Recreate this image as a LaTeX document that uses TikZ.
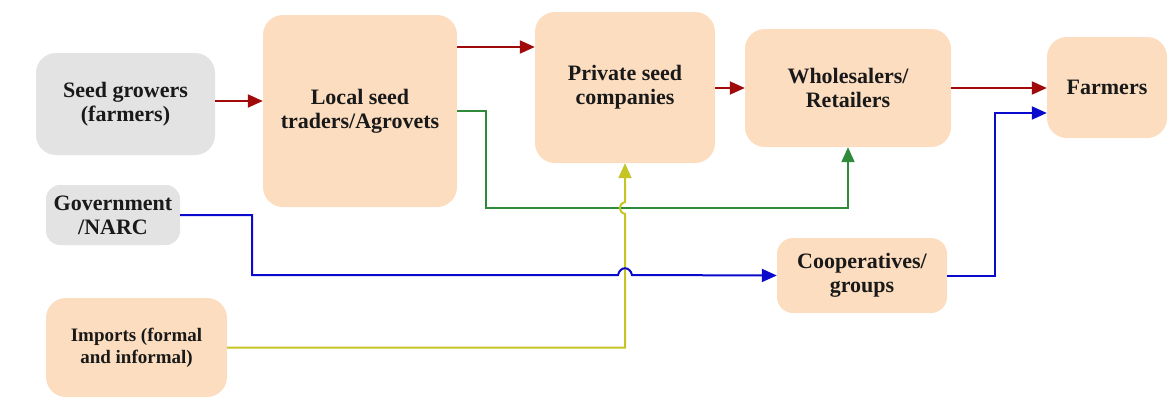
\documentclass[tikz,border=0pt]{standalone}
\usepackage{fontspec}
\setmainfont{Liberation Serif}[BoldFont={Liberation Serif Bold}]
\usetikzlibrary{arrows.meta,calc}
\definecolor{peach}{HTML}{FCDDC0}
\definecolor{greybox}{HTML}{E3E3E3}
\definecolor{darkred}{HTML}{A00A0A}
\definecolor{flowgreen}{HTML}{2F8A3A}
\definecolor{flowyellow}{HTML}{C4C424}
\definecolor{flowblue}{HTML}{0A0ACC}
\tikzset{
  box/.style={rounded corners=20pt, align=center, font=\rmfamily\bfseries\fontsize{22}{24}\selectfont, inner sep=0pt, text=black!90},
  pbox/.style={box, fill=peach},
  gbox/.style={box, fill=greybox},
  flow/.style={line width=2pt, -{Triangle[length=15pt,width=13pt]}},
}
\begin{document}
\begin{tikzpicture}[x=1pt,y=-1pt]
\useasboundingbox (0,0) rectangle (1170,405);
\node[gbox, minimum width=179pt, minimum height=102pt] (sg) at (125.5,104) {Seed growers\\(farmers)};
\node[pbox, minimum width=194pt, minimum height=192pt] (lt) at (360,111) {Local seed\\traders/Agrovets};
\node[pbox, minimum width=180pt, minimum height=151pt] (ps) at (625,87.5) {Private seed\\companies};
\node[pbox, minimum width=206pt, minimum height=118pt] (wr) at (848,88) {Wholesalers/\\Retailers};
\node[pbox, minimum width=120pt, minimum height=101pt] (fa) at (1107,87.5) {Farmers};
\node[gbox, minimum width=134pt, minimum height=60pt, rounded corners=14pt] (gov) at (113,215) {Government\\/NARC};
\node[pbox, minimum width=170pt, minimum height=75pt, rounded corners=16pt] (co) at (862,275.5) {Cooperatives/\\groups};
\node[pbox, minimum width=181pt, minimum height=99pt, font=\rmfamily\bfseries\fontsize{19}{22}\selectfont] (im) at (136.5,347.5) {Imports (formal\\and informal)};
\coordinate (r1) at (0,101);
\coordinate (r2) at (0,47);
\coordinate (r3) at (0,88);
\coordinate (g1) at (0,111);
\coordinate (gx) at (486,208);
\coordinate (yb1) at (625,214);
\coordinate (yb2) at (625,202);
\coordinate (bc) at (252,275);
\coordinate (bj1) at (618,275);
\coordinate (bj2) at (632,275);
\coordinate (bb) at (995,113);
% red flows
\draw[flow, darkred] (sg.east |- r1) -- (lt.west |- r1);
\draw[flow, darkred] (lt.east |- r2) -- (ps.west |- r2);
\draw[flow, darkred] (ps.east |- r3) -- (wr.west |- r3);
\draw[flow, darkred] (wr.east |- r3) -- (fa.west |- r3);
% green flow
\draw[flow, flowgreen] (lt.east |- g1) -| (gx) -| (wr.south);
% yellow flow
\draw[flow, flowyellow] (im.east) -| (yb1) .. controls ($(yb1)+(-7,-2)$) and ($(yb2)+(-7,2)$) .. (yb2) -- (ps.south);
% blue flows
\draw[flow, flowblue] (gov.east) -| (bc) -- (bj1) .. controls ($(bj1)+(2,-9)$) and ($(bj2)+(-2,-9)$) .. (bj2) -- (co.west);
\draw[flow, flowblue] (co.east) -| (bb) -- (fa.west |- bb);
\end{tikzpicture}
\end{document}
